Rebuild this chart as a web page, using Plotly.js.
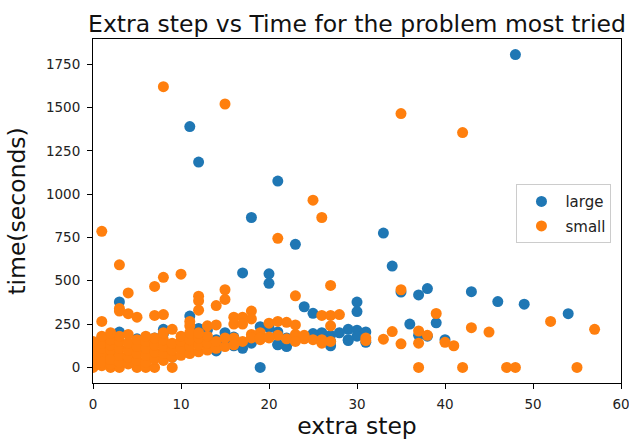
<!DOCTYPE html>
<html>
<head>
<meta charset="utf-8">
<script src="https://cdn.plot.ly/plotly-3.0.1.min.js"></script>
<style>html,body{margin:0;padding:0;background:#fff;}#chart{width:629px;height:440px;}</style>
</head>
<body>
<div id="chart"></div>
<script>
// "large" series
const largeSteps = [48,11,12,21,18,33,23,34,17,20,20,38,35,43,37,46,49,3,24,30,30,25,54,11,36,39,3,8,8,12,13,19,19,29,29,30,31,30,31,27,27,27,21,21,22,17,18,16,40,14,9,1,1,1,2,4,5,6,7,10,12,13,15,15,20,26,25,37,38,0,0,2,3,6,8,10,11,14,16,19,22,23,26,28,21,29];
const largeTime  = [1805,1390,1185,1075,865,775,710,585,545,540,485,455,435,437,418,380,365,378,350,377,322,312,310,296,250,257,204,220,195,225,215,0,235,220,155,215,205,180,145,185,150,125,205,130,120,110,140,125,160,95,60,170,60,30,120,40,165,150,170,150,165,140,150,200,230,200,195,185,180,50,100,80,150,100,90,110,180,160,175,185,170,180,160,200,133,160];

// "small" series
const smallSteps = [8,15,35,42,25,26,1,21,3,10,8,7,27,35,15,15,4,23,12,12,12,14,3,3,4,5,7,8,18,18,16,17,16,17,26,27,28,27,39,1,11,11,52,57,43,34,45,37,37,38,33,35,40,41,31,31,37,42,47,48,55,9,2,3,5,6,7,0,
  19,20,21,22,23,21,22,23,24,25,26,27,23,24,26,20,19,18,17,16,
  0,0,0,0,0,1,1,1,1,1,1,2,2,2,2,2,2,3,3,3,3,3,4,4,4,4,4,5,5,5,5,6,6,6,6,7,7,7,7,8,8,8,8,9,9,9,9,10,10,10,10,11,11,11,11,12,12,12,13,13,13,14,14,14,15,15,16,18,19,20,13,12,8,6,1,0,2];
const smallTime  = [1620,1520,1465,1355,965,865,785,745,592,538,520,467,473,448,448,392,430,413,411,384,330,357,340,325,310,290,300,305,325,280,290,290,250,250,300,300,305,240,311,265,265,240,265,220,229,207,204,210,140,185,163,136,145,125,170,155,0,0,0,0,0,0,0,0,0,0,0,0,
  200,255,265,260,245,185,165,190,165,160,160,150,150,185,140,170,160,190,150,170,
  20,60,90,120,40,10,50,80,110,140,30,20,60,100,130,160,45,30,70,110,150,180,20,60,100,140,190,40,80,120,160,30,70,110,150,50,90,130,170,40,80,120,160,60,100,140,220,70,110,150,180,80,120,160,200,90,130,170,100,140,240,110,150,245,120,170,130,170,170,175,180,200,200,180,180,150,200];

const xTicks = [0,10,20,30,40,50,60];
const yTicks = [0,250,500,750,1000,1250,1500,1750];

const data = [
  {type:'scatter', mode:'markers', name:'large', legendgroup:'a', x:largeSteps, y:largeTime,
   marker:{color:'#1f77b4', size:11, line:{width:0}}},
  {type:'scatter', mode:'markers', name:'small', legendgroup:'b', x:smallSteps, y:smallTime,
   marker:{color:'#ff7f0e', size:11, line:{width:0}}}
];

const axisCommon = {
  showgrid:false, zeroline:false, showline:true, mirror:true,
  linecolor:'#000', linewidth:1, ticks:'outside', ticklen:5, tickcolor:'#000',
  ticklabeloverflow:'allow',
  tickfont:{family:'DejaVu Sans', size:13.5, color:'#222'}
};

const layout = {
  width:629, height:440,
  margin:{l:93, r:8, t:39, b:57},
  paper_bgcolor:'#fff', plot_bgcolor:'#fff',
  font:{family:'DejaVu Sans', color:'#000'},
  title:{text:'Extra step vs Time for the problem most tried', font:{family:'DejaVu Sans', size:23.5, color:'#111'},
         x:0.5, xref:'paper', y:0.946, yref:'container', yanchor:'middle'},
  xaxis:Object.assign({}, axisCommon, {range:[0,60], tickvals:xTicks, ticklabelstandoff:4,
         title:{text:'extra step', font:{size:23.5, color:'#111'}, standoff:8}}),
  yaxis:Object.assign({}, axisCommon, {range:[-90,1895], tickvals:yTicks, ticklabelstandoff:4,
         title:{text:'time(seconds)', font:{size:23.5, color:'#111'}, standoff:13}}),
  showlegend:true,
  legend:{x:0.802, y:0.578, xanchor:'left', yanchor:'top', bgcolor:'#fff', bordercolor:'#ccc', borderwidth:1,
          itemwidth:38, tracegroupgap:2, font:{family:'DejaVu Sans', size:15, color:'#222'}}
};

Plotly.newPlot('chart', data, layout, {displayModeBar:false, staticPlot:true});
</script>
</body>
</html>
